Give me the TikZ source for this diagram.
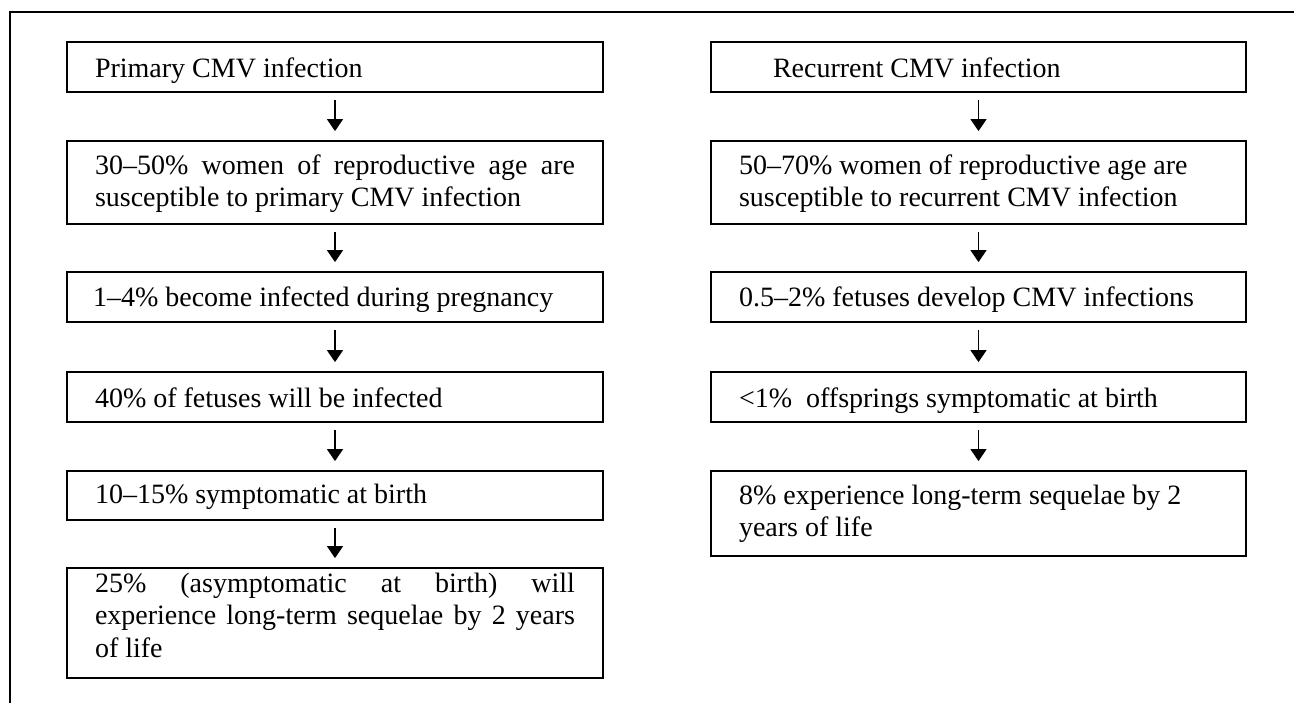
\documentclass[tikz,border=0pt]{standalone}
\usepackage{fontspec}
\setmainfont{Liberation Serif}
\usetikzlibrary{arrows.meta}
\newcommand{\fullline}[1]{\makebox[480pt][s]{\spaceskip=0pt\xspaceskip=0pt\relax #1}}
\begin{document}
\begin{tikzpicture}[x=1pt,y=-1pt,
  box/.style={draw, line width=1.8pt, rectangle, inner xsep=28pt, inner ysep=0pt,
    font=\fontsize{28}{32.5}\selectfont,
    execute at begin node={\spaceskip=0pt\xspaceskip=0pt\relax}},
  lbox/.style={box, text width=480pt},
  rbox/.style={box, text width=479pt},
  arr/.style={line width=1.4pt, -{Triangle[width=16pt,length=12pt]},
    shorten <=7pt, shorten >=9pt},
  frameline/.style={line width=2pt}]
\useasboundingbox (0,0) rectangle (1294,702);
% outer frame
\coordinate (ftr) at (1296,12);
\coordinate (ftl) at (10,12);
\coordinate (fbl) at (10,704);
\draw[frameline] (ftr) -- (ftl) -- (fbl);
% left column
\node[lbox, text height=35pt, text depth=15pt] (l1) at (335,67) {Primary CMV infection};
\node[lbox, text height=33pt, text depth=50pt] (l2) at (335,182.5)
  {\fullline{30–50\% women of reproductive age are}\newline susceptible to primary CMV infection};
\node[lbox, text height=34pt, text depth=16pt] (l3) at (335,297) {\hspace*{-2pt}1–4\% become infected during pregnancy};
\node[lbox, text height=35pt, text depth=15pt] (l4) at (335,397) {40\% of fetuses will be infected};
\node[lbox, text height=32pt, text depth=17pt] (l5) at (335,495.5) {10–15\% symptomatic at birth};
\node[lbox, text height=24pt, text depth=86pt] (l6) at (335,623)
  {\fullline{25\% (asymptomatic at birth) will}\newline\fullline{experience long-term sequelae by 2 years}\newline of life};
% right column
\node[rbox, text height=35pt, text depth=15pt] (r1) at (978.5,67) {\hspace*{34pt}Recurrent CMV infection};
\node[rbox, text height=33pt, text depth=50pt] (r2) at (978.5,182.5)
  {50–70\% women of reproductive age are\newline susceptible to recurrent CMV infection};
\node[rbox, text height=34pt, text depth=16pt] (r3) at (978.5,297) {0.5–2\% fetuses develop CMV infections};
\node[rbox, text height=35pt, text depth=15pt] (r4) at (978.5,397) {<1\%\ \ offsprings symptomatic at birth};
\node[rbox, text height=33pt, text depth=52pt] (r5) at (978.5,513.5)
  {8\% experience long-term sequelae by 2\newline years of life};
% arrows
\draw[arr] (l1) -- (l2);
\draw[arr] (l2) -- (l3);
\draw[arr] (l3) -- (l4);
\draw[arr] (l4) -- (l5);
\draw[arr] (l5) -- (l6);
\draw[arr] (r1) -- (r2);
\draw[arr] (r2) -- (r3);
\draw[arr] (r3) -- (r4);
\draw[arr] (r4) -- (r5);
\end{tikzpicture}
\end{document}
